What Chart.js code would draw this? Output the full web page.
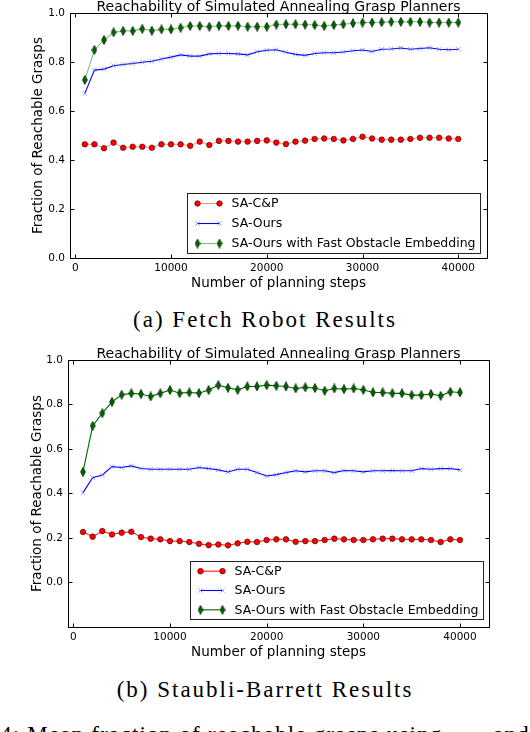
<!DOCTYPE html>
<html>
<head>
<meta charset="utf-8">
<script src="https://cdn.jsdelivr.net/npm/chart.js@4.4.0/dist/chart.umd.min.js"></script>
<style>
  html, body { margin: 0; padding: 0; background: #fff; }
  body { width: 530px; height: 732px; position: relative; overflow: hidden; }
  .plot { position: absolute; left: 0; width: 530px; }
  #wrapA { top: -3px; height: 300px; }
  #wrapB { top: 344px; height: 320px; }
  .caption {
    position: absolute; left: 0; width: 530px; text-align: center;
    font-family: "Liberation Serif", serif; font-size: 23px; line-height: 23px;
    letter-spacing: 2px; color: #000; white-space: nowrap;
  }
  #capA { top: 308px; }
  #capB { top: 678px; }
  #figText { top: 723px; display: flex; justify-content: space-between; letter-spacing: 1.2px; }
</style>
</head>
<body>
<div class="plot" id="wrapA"><canvas id="chartA"></canvas></div>
<div class="caption" id="capA">(a) Fetch Robot Results</div>
<div class="plot" id="wrapB"><canvas id="chartB"></canvas></div>
<div class="caption" id="capB">(b) Staubli-Barrett Results</div>
<div class="caption" id="figText"><span>4: Mean fraction of reachable grasps using</span><span>and</span></div>
<script>
const steps = [1000, 2000, 3000, 4000, 5000, 6000, 7000, 8000, 9000, 10000,
  11000, 12000, 13000, 14000, 15000, 16000, 17000, 18000, 19000, 20000,
  21000, 22000, 23000, 24000, 25000, 26000, 27000, 28000, 29000, 30000,
  31000, 32000, 33000, 34000, 35000, 36000, 37000, 38000, 39000, 40000];
const xTicks = [0, 10000, 20000, 30000, 40000];
const yTicks = [0.0, 0.2, 0.4, 0.6, 0.8, 1.0];
const seriesNames = ["SA-C&P", "SA-Ours", "SA-Ours with Fast Obstacle Embedding"];
const chartTitle = "Reachability of Simulated Annealing Grasp Planners";
const xTitle = "Number of planning steps";
const yTitle = "Fraction of Reachable Grasps";

// (a) Fetch robot
const fetchCP = [0.464, 0.464, 0.448, 0.471, 0.450, 0.454, 0.454, 0.450, 0.464, 0.464,
  0.464, 0.458, 0.475, 0.461, 0.478, 0.478, 0.475, 0.475, 0.478, 0.480,
  0.471, 0.465, 0.475, 0.479, 0.486, 0.488, 0.486, 0.480, 0.486, 0.495,
  0.488, 0.483, 0.483, 0.483, 0.486, 0.491, 0.491, 0.491, 0.488, 0.486];
const fetchOurs = [0.672, 0.767, 0.771, 0.785, 0.790, 0.794, 0.799, 0.803, 0.812, 0.820,
  0.829, 0.824, 0.824, 0.833, 0.835, 0.835, 0.833, 0.829, 0.842, 0.848,
  0.850, 0.840, 0.831, 0.827, 0.835, 0.838, 0.838, 0.841, 0.846, 0.849,
  0.843, 0.852, 0.853, 0.857, 0.852, 0.855, 0.858, 0.852, 0.850, 0.852];
const fetchFast = [0.727, 0.849, 0.890, 0.921, 0.927, 0.927, 0.935, 0.928, 0.933, 0.933,
  0.940, 0.947, 0.947, 0.944, 0.948, 0.947, 0.948, 0.944, 0.944, 0.944,
  0.953, 0.954, 0.954, 0.953, 0.951, 0.947, 0.951, 0.954, 0.958, 0.961,
  0.961, 0.962, 0.964, 0.964, 0.964, 0.964, 0.961, 0.961, 0.961, 0.961];

// (b) Staubli-Barrett
const staubliCP = [0.227, 0.206, 0.231, 0.216, 0.224, 0.228, 0.204, 0.197, 0.194, 0.186,
  0.186, 0.182, 0.174, 0.168, 0.171, 0.167, 0.176, 0.183, 0.182, 0.191,
  0.194, 0.194, 0.183, 0.186, 0.186, 0.191, 0.197, 0.194, 0.191, 0.191,
  0.194, 0.197, 0.197, 0.194, 0.194, 0.194, 0.191, 0.182, 0.194, 0.191];
const staubliOurs = [0.404, 0.471, 0.483, 0.521, 0.517, 0.524, 0.512, 0.509, 0.509, 0.509,
  0.509, 0.509, 0.517, 0.512, 0.506, 0.497, 0.509, 0.509, 0.494, 0.479,
  0.485, 0.494, 0.502, 0.497, 0.502, 0.502, 0.494, 0.503, 0.502, 0.497,
  0.502, 0.502, 0.503, 0.502, 0.502, 0.512, 0.509, 0.512, 0.512, 0.506];
const staubliFast = [0.497, 0.704, 0.761, 0.812, 0.844, 0.850, 0.847, 0.836, 0.850, 0.865,
  0.851, 0.854, 0.851, 0.865, 0.887, 0.875, 0.866, 0.881, 0.881, 0.887,
  0.884, 0.881, 0.872, 0.877, 0.874, 0.862, 0.872, 0.869, 0.872, 0.866,
  0.854, 0.854, 0.850, 0.850, 0.842, 0.842, 0.847, 0.839, 0.857, 0.854];

Chart.defaults.font.family = "'DejaVu Sans', sans-serif";
Chart.defaults.color = "#000";

// thin diamond marker like matplotlib's 'd'
function thinDiamond() {
  const c = document.createElement("canvas");
  c.width = 6; c.height = 10;
  const g = c.getContext("2d");
  g.beginPath();
  g.moveTo(3, 0.5); g.lineTo(5.4, 5); g.lineTo(3, 9.5); g.lineTo(0.6, 5);
  g.closePath();
  g.fillStyle = "#006400"; g.fill();
  g.strokeStyle = "#002a00"; g.lineWidth = 0.8; g.stroke();
  return c;
}
const diamondImg = thinDiamond();

function points(vals) {
  return vals.map((v, i) => ({ x: steps[i], y: v }));
}

function makeDatasets(cp, ours, fast, faded) {
  return [
    { label: seriesNames[0], data: points(cp),
      borderColor: faded ? "rgba(255,0,0,0.45)" : "#ff0000", borderWidth: 1,
      pointStyle: "circle", pointRadius: 2.8,
      pointBackgroundColor: "#ff0000", pointBorderColor: "#3a0000", pointBorderWidth: 0.6 },
    { label: seriesNames[1], data: points(ours),
      borderColor: "#0000ff", borderWidth: 1.1,
      pointStyle: "crossRot", pointRadius: 3,
      pointBackgroundColor: "rgba(110,110,255,0.7)", pointBorderColor: "rgba(110,110,255,0.7)", pointBorderWidth: 1 },
    { label: seriesNames[2], data: points(fast),
      borderColor: faded ? "rgba(0,128,0,0.5)" : "#006400", borderWidth: 1.1,
      pointStyle: diamondImg, pointRadius: 4,
      pointBackgroundColor: "#006400", pointBorderColor: "#002a00", pointBorderWidth: 0.8 }
  ];
}

// title over the plot, box around it and inward ticks on all four sides
const frame = {
  id: "frame",
  afterDatasetsDraw(chart) {
    const { ctx, chartArea: a, scales } = chart;
    const L = Math.round(a.left) + 0.5, R = Math.round(a.right) + 0.5;
    const T = Math.round(a.top) + 0.5, B = Math.round(a.bottom) + 0.5;
    ctx.save();
    ctx.fillStyle = "#000";
    ctx.font = "14px 'DejaVu Sans'";
    ctx.textAlign = "center";
    ctx.textBaseline = "alphabetic";
    ctx.fillText(chartTitle, (a.left + a.right) / 2, a.top - 2.5);
    ctx.strokeStyle = "#000";
    ctx.lineWidth = 1;
    ctx.strokeRect(L, T, R - L, B - T);
    ctx.beginPath();
    scales.x.ticks.forEach(t => {
      const px = Math.round(scales.x.getPixelForValue(t.value)) + 0.5;
      ctx.moveTo(px, B); ctx.lineTo(px, B - 4);
      ctx.moveTo(px, T); ctx.lineTo(px, T + 4);
    });
    scales.y.ticks.forEach(t => {
      const py = Math.round(scales.y.getPixelForValue(t.value)) + 0.5;
      ctx.moveTo(L, py); ctx.lineTo(L + 4, py);
      ctx.moveTo(R, py); ctx.lineTo(R - 4, py);
    });
    ctx.stroke();
    ctx.restore();
  }
};

// matplotlib style legend box in the lower right of the plot
const boxLegend = {
  id: "boxLegend",
  afterDatasetsDraw(chart, args, opts) {
    const { ctx, chartArea } = chart;
    const sets = chart.data.datasets;
    ctx.save();
    ctx.font = "12.5px 'DejaVu Sans'";
    const textW = Math.max(...sets.map(d => ctx.measureText(d.label).width));
    const w = 44 + textW + 5;
    const h = opts.height;
    const right = chartArea.right - opts.right;
    const bottom = chartArea.bottom - opts.bottom;
    const left = Math.round(right - w) + 0.5, top = Math.round(bottom - h) + 0.5;
    ctx.fillStyle = "#fff";
    ctx.fillRect(left, top, w, h);
    ctx.strokeStyle = "#222";
    ctx.lineWidth = 1;
    ctx.strokeRect(left, top, w, h);
    sets.forEach((d, i) => {
      const y = top + h / 3 * (i + 0.5);
      ctx.strokeStyle = d.borderColor;
      ctx.lineWidth = d.borderWidth;
      ctx.beginPath();
      ctx.moveTo(left + 10, y); ctx.lineTo(left + 32, y);
      ctx.stroke();
      [left + 10, left + 32].forEach(px => {
        ctx.fillStyle = d.pointBackgroundColor;
        ctx.strokeStyle = d.pointBorderColor;
        ctx.lineWidth = d.pointBorderWidth;
        Chart.helpers.drawPoint(ctx, {
          pointStyle: d.pointStyle, radius: d.pointRadius, rotation: 0, borderWidth: d.pointBorderWidth
        }, px, y);
      });
      ctx.fillStyle = "#000";
      ctx.textAlign = "left";
      ctx.textBaseline = "middle";
      ctx.fillText(d.label, left + 44, y + 0.5);
    });
    ctx.restore();
  }
};

function makeOptions(cfg) {
  return {
    animation: false,
    responsive: true,
    maintainAspectRatio: false,
    layout: { padding: { left: 0, right: cfg.padRight, top: cfg.padTop, bottom: 0 } },
    plugins: {
      legend: { display: false },
      tooltip: { enabled: false },
      title: { display: false },
      boxLegend: cfg.legend
    },
    scales: {
      x: {
        type: "linear", min: -550, max: 43000,
        grid: { display: false, drawTicks: false },
        border: { display: false },
        afterBuildTicks: s => { s.ticks = xTicks.map(v => ({ value: v })); },
        afterFit: s => { s.height = cfg.xHeight; },
        ticks: {
          color: "#000", font: { size: 10.5 }, padding: 4,
          maxRotation: 0, autoSkip: false, callback: v => String(v)
        },
        title: {
          display: true, text: xTitle, color: "#000", font: { size: 13.5 },
          padding: { top: 0, bottom: cfg.xTitlePad }
        }
      },
      y: {
        type: "linear", min: cfg.yMin, max: 1.0,
        grid: { display: false, drawTicks: false },
        border: { display: false },
        afterBuildTicks: s => { s.ticks = yTicks.map(v => ({ value: v })); },
        afterFit: s => { s.width = cfg.yWidth; },
        ticks: { color: "#000", font: { size: 10.5 }, padding: 5, callback: v => v.toFixed(1) },
        title: {
          display: true, text: yTitle, color: "#000", font: { size: 13.5 },
          padding: { top: cfg.yTitlePad, bottom: 0 }
        }
      }
    }
  };
}

new Chart(document.getElementById("chartA"), {
  type: "line",
  data: { datasets: makeDatasets(fetchCP, fetchOurs, fetchFast, true) },
  options: makeOptions({
    padRight: 43, padTop: 16, xHeight: 39, xTitlePad: 5.5, yMin: 0.0, yWidth: 70, yTitlePad: 30,
    legend: { height: 60, right: 7, bottom: 5 }
  }),
  plugins: [frame, boxLegend]
});

new Chart(document.getElementById("chartB"), {
  type: "line",
  data: { datasets: makeDatasets(staubliCP, staubliOurs, staubliFast, false) },
  options: makeOptions({
    padRight: 41, padTop: 16, xHeight: 37, xTitlePad: 3.5, yMin: -0.2, yWidth: 68, yTitlePad: 29,
    legend: { height: 58, right: 6, bottom: 8 }
  }),
  plugins: [frame, boxLegend]
});
</script>
</body>
</html>
